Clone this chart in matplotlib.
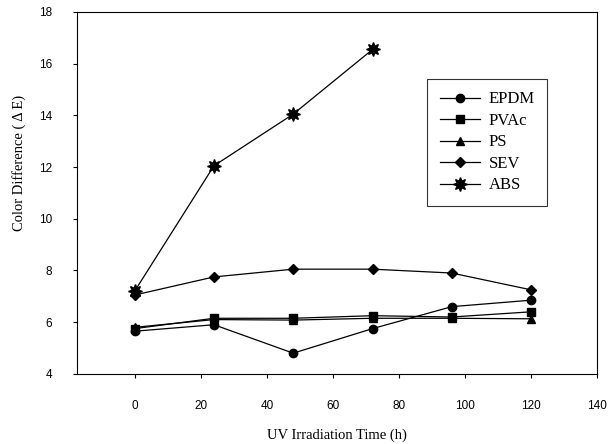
import matplotlib
matplotlib.use("Agg")
import matplotlib.pyplot as plt

# UV irradiation time (h)
hours = [0, 24, 48, 72, 96, 120]
hours_abs = [0, 24, 48, 72]

epdm = [5.65, 5.9, 4.8, 5.75, 6.6, 6.85]
pvac = [5.75, 6.15, 6.15, 6.25, 6.2, 6.4]
ps = [5.8, 6.1, 6.08, 6.15, 6.15, 6.13]
sev = [7.05, 7.75, 8.05, 8.05, 7.9, 7.25]
abs_ = [7.2, 12.05, 14.05, 16.55]

x_ticks = [0, 20, 40, 60, 80, 100, 120, 140]
y_ticks = [4, 6, 8, 10, 12, 14, 16, 18]

fig = plt.figure(figsize=(6.1, 4.44), dpi=100)
ax = fig.add_axes([0.126, 0.158, 0.853, 0.815])

kw = dict(color="black", linewidth=0.9, markersize=6)
ax.plot(hours, epdm, marker="o", label="EPDM", **kw)
ax.plot(hours, pvac, marker="s", label="PVAc", **kw)
ax.plot(hours, ps, marker="^", label="PS", **kw)
ax.plot(hours, sev, marker="D", label="SEV", color="black", linewidth=0.9, markersize=5)
ax.plot(hours_abs, abs_, marker=(8, 1, 0), label="ABS", color="black", linewidth=0.9, markersize=10)

ax.set_xlim(-17.5, 140)
ax.set_ylim(4, 18)
ax.set_xticks(x_ticks)
ax.set_yticks(y_ticks)
ax.tick_params(direction="out", length=3, width=0.8, labelsize=8.5)
for lab in ax.get_xticklabels() + ax.get_yticklabels():
    lab.set_fontfamily("Liberation Sans")
ax.tick_params(axis="x", pad=15.5)
ax.tick_params(axis="y", pad=15)
for sp in ax.spines.values():
    sp.set_linewidth(0.8)

ax.set_xlabel("UV Irradiation Time (h)", family="Liberation Serif", fontsize=10.5, labelpad=12)
ax.set_ylabel("Color Difference ( \u0394 E)", family="Liberation Serif", fontsize=10.5)
ax.yaxis.set_label_coords(-0.098, 0.583)

leg = ax.legend(loc="upper left", bbox_to_anchor=(0.673, 0.815), borderaxespad=0,
                frameon=True, fancybox=False, edgecolor="black",
                handlelength=2.4, handletextpad=0.55, borderpad=0.75, labelspacing=0.33,
                prop={"family": "Liberation Serif", "size": 12})
leg.get_frame().set_linewidth(0.8)

fig.savefig("out.png", dpi=100)
